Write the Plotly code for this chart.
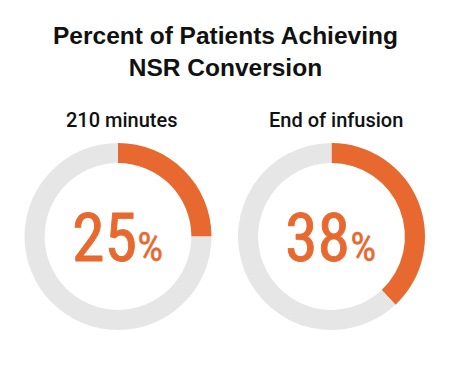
import plotly.graph_objects as go

labels = ["Achieved NSR", "Not achieved"]
panel_titles = ["210 minutes", "End of infusion"]
pct_values = [25, 38]
title_text = "Percent of Patients Achieving<br>NSR Conversion"

ORANGE = "#E8692F"
GRAY = "#E6E6E6"
W, H = 450, 365

# layout geometry (pixels)
centers_x = [118.0, 331.5]
center_y = 236.5
radius = 93.5
hole = 0.785

fig = go.Figure()
for i, v in enumerate(pct_values):
    cx = centers_x[i]
    fig.add_trace(go.Pie(
        labels=labels,
        values=[v, 100 - v],
        sort=False,
        direction="clockwise",
        rotation=0,
        hole=hole,
        marker=dict(colors=[ORANGE, GRAY], line=dict(width=0)),
        textinfo="none",
        hoverinfo="label+percent",
        showlegend=False,
        domain=dict(
            x=[(cx - radius) / W, (cx + radius) / W],
            y=[(H - center_y - radius) / H, (H - center_y + radius) / H],
        ),
    ))

annotations = [
    dict(text="<b>" + title_text + "</b>", x=0.5, y=(H - 52) / H,
         xref="paper", yref="paper", xanchor="center", yanchor="middle",
         showarrow=False, font=dict(family="Liberation Sans", size=24.5, color="#111111")),
]
sub_x = [121.5, 335.5]
for i, t in enumerate(panel_titles):
    annotations.append(dict(
        text=t, x=sub_x[i] / W, y=(H - 120) / H, xref="paper", yref="paper",
        xanchor="center", yanchor="middle", showarrow=False,
        font=dict(family="Roboto", size=20, color="#111111", weight=500)))
stroke = f"stroke:{ORANGE};stroke-width:0.9px;stroke-linejoin:round"
stroke_pct = f"stroke:{ORANGE};stroke-width:0.4px;stroke-linejoin:round"
for i, v in enumerate(pct_values):
    annotations.append(dict(
        text=f"<span style='{stroke}'>{v}</span><span style='font-size:41px;{stroke_pct}'>%</span>",
        x=(centers_x[i] - 1) / W, y=(H - 238) / H, xref="paper", yref="paper",
        xanchor="center", yanchor="middle", showarrow=False,
        font=dict(family="Roboto Condensed", size=66, color=ORANGE, weight=400)))

fig.update_layout(
    width=W, height=H,
    margin=dict(l=0, r=0, t=0, b=0),
    paper_bgcolor="white", plot_bgcolor="white",
    annotations=annotations,
)

fig.write_html("out.html")
